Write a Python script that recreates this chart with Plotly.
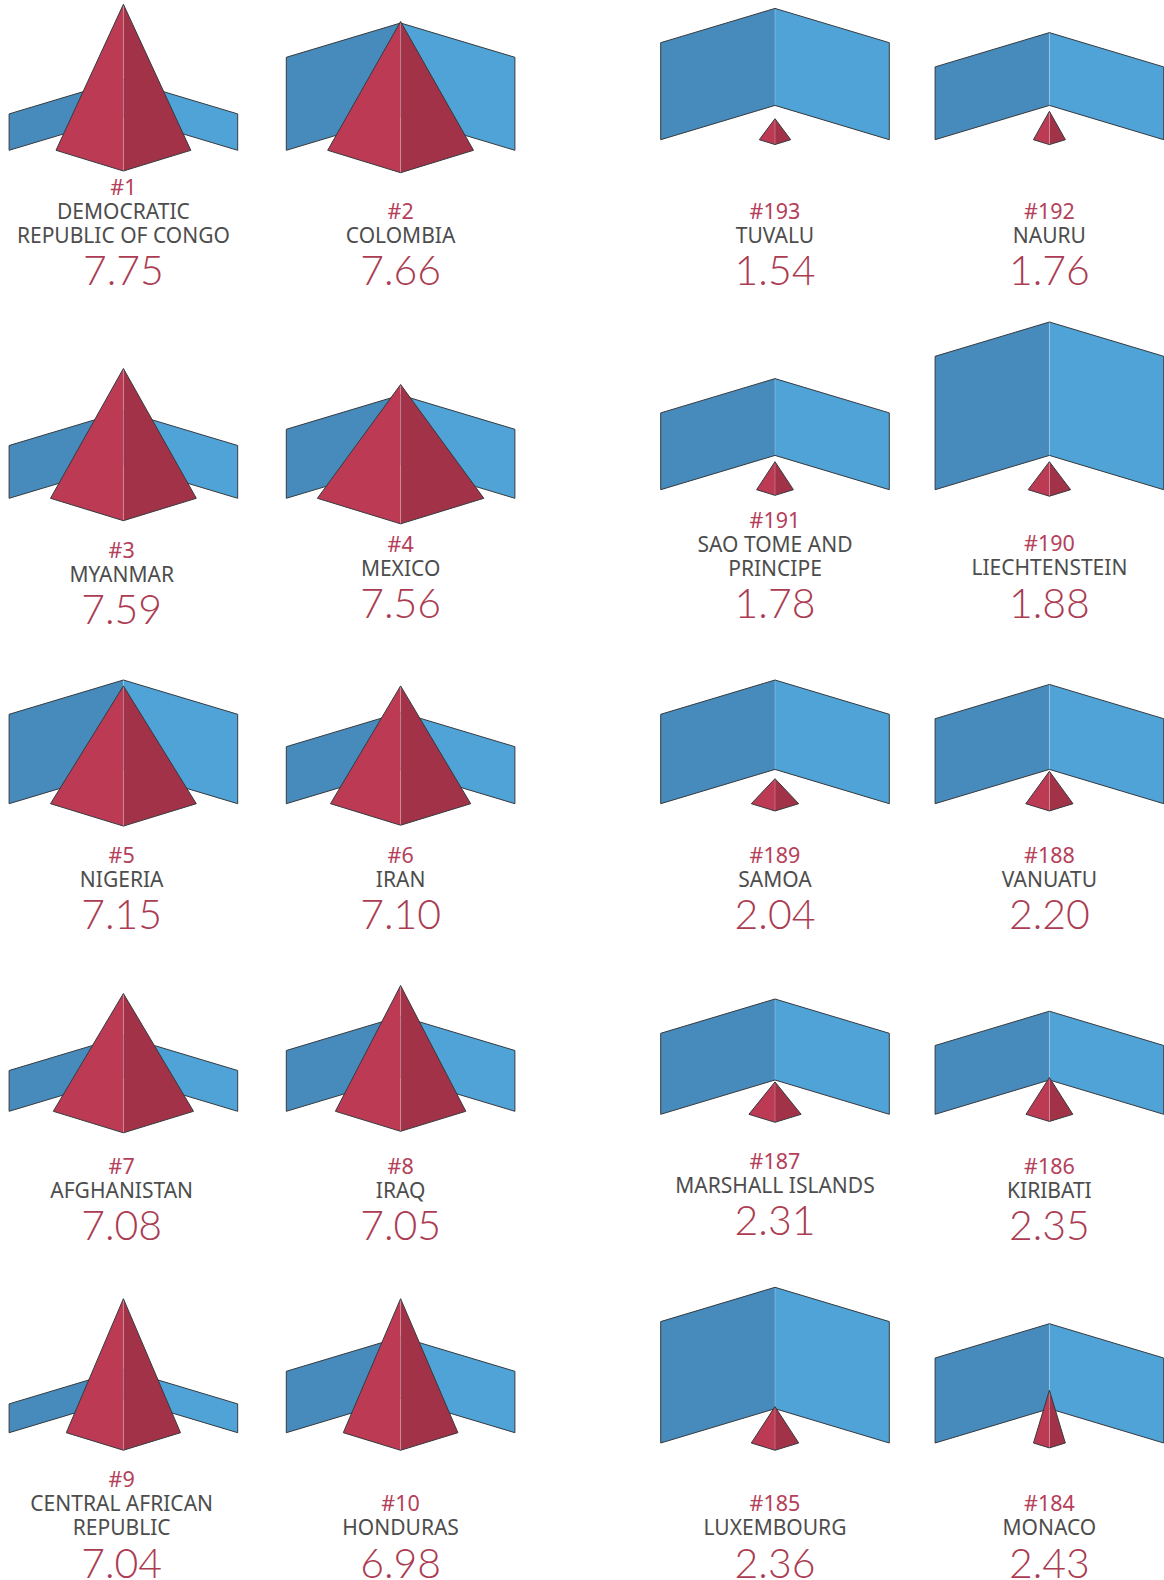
import plotly.graph_objects as go

# ---- data (index units) ----
RANKS = [1, 2, 3, 4, 5, 6, 7, 8, 9, 10,
         193, 192, 191, 190, 189, 188, 187, 186, 185, 184]
COUNTRIES = [
    ["DEMOCRATIC", "REPUBLIC OF CONGO"], ["COLOMBIA"], ["MYANMAR"], ["MEXICO"],
    ["NIGERIA"], ["IRAN"], ["AFGHANISTAN"], ["IRAQ"],
    ["CENTRAL AFRICAN", "REPUBLIC"], ["HONDURAS"],
    ["TUVALU"], ["NAURU"], ["SAO TOME AND", "PRINCIPE"], ["LIECHTENSTEIN"],
    ["SAMOA"], ["VANUATU"], ["MARSHALL ISLANDS"], ["KIRIBATI"],
    ["LUXEMBOURG"], ["MONACO"],
]
SCORES = [7.75, 7.66, 7.59, 7.56, 7.15, 7.10, 7.08, 7.05, 7.04, 6.98,
          1.54, 1.76, 1.78, 1.88, 2.04, 2.20, 2.31, 2.35, 2.36, 2.43]
WALL = [1.82, 4.65, 2.64, 3.45, 4.47, 2.85, 2.04, 3.04, 1.44, 3.07,
        4.85, 3.64, 3.84, 6.67, 4.47, 4.25, 4.05, 3.44, 6.07, 4.25]
PEAK = [7.30, 6.44, 6.49, 5.69, 5.89, 5.89, 5.89, 6.29, 6.70, 6.70,
        1.05, 1.42, 1.40, 1.40, 1.25, 1.62, 1.62, 1.84, 1.82, 2.64]
SPREAD = [6.74, 7.29, 7.29, 8.32, 7.29, 7.01, 7.01, 6.52, 5.71, 5.73,
          1.57, 1.60, 1.84, 2.12, 2.37, 2.36, 2.61, 2.34, 2.37, 1.59]

# ---- layout (pixel grid of the page) ----
W, H = 1164, 1580
UNIT = 20.0                # px per index unit
HALF_SPREAD_UNIT = 10.0
WING = 114.3               # half span of the folded wall
TILT = 0.30                # isometric slope
DEPTH = 0.307              # front corner drop of the pyramid
COL_X = [123.4, 400.6, 775.0, 1049.4]
TEXT_X = [[123.4, 121.7, 121.7, 121.7, 121.7], [400.6] * 5, [775.0] * 5, [1049.4] * 5]
BASE_Y = [[150.3, 498.3, 803.7, 1111.3, 1432.7],
          [150.3, 498.3, 803.7, 1111.3, 1432.7],
          [139.7, 489.7, 803.7, 1114.3, 1443.0],
          [139.7, 489.7, 803.7, 1114.3, 1443.0]]
RANK_Y = [[186.7, 550.0, 854.7, 1165.7, 1479.3],
          [210.7, 543.7, 854.7, 1165.7, 1503.3],
          [210.7, 520.0, 854.7, 1160.7, 1503.3],
          [210.7, 543.3, 854.7, 1165.7, 1503.3]]
LINE = 24.0
SCORE_GAP = 37.2
TEXT_NUDGE = 2.8
# order of tiles in the grid: (column, row)
CELLS = [(c, r) for r in range(5) for c in (0, 1)] + [(c, r) for r in range(5) for c in (2, 3)]

C_WALL_L, C_WALL_R = "#468BBC", "#4FA3D7"
C_PYR_L, C_PYR_R = "#BC3A53", "#A23248"
C_EDGE = "#363A3E"
C_RANK, C_NAME, C_SCORE = "#B5405A", "#4D4D4D", "#AB3C52"


def add(xs, ys, pts):
    for x, y in pts:
        xs.append(x)
        ys.append(y)
    xs.append(None)
    ys.append(None)


wl, wr, we, ws = ([], []), ([], []), ([], []), ([], [])
pl, pr, pe, ps = ([], []), ([], []), ([], []), ([], [])
rank_t, name_t, score_t = ([], [], []), ([], [], []), ([], [], [])

for i, (c, r) in enumerate(CELLS):
    cx, base = COL_X[c], BASE_Y[c][r]
    h = WALL[i] * UNIT
    rise = WING * TILT
    ctr_bot, ctr_top = base - rise, base - rise - h
    out_top = base - h
    add(*wl, [(cx - WING, base), (cx - WING, out_top), (cx, ctr_top), (cx, ctr_bot), (cx - WING, base)])
    add(*wr, [(cx + WING, base), (cx + WING, out_top), (cx, ctr_top), (cx, ctr_bot), (cx + WING, base)])
    add(*we, [(cx - WING, base), (cx - WING, out_top), (cx, ctr_top), (cx + WING, out_top),
              (cx + WING, base), (cx, ctr_bot), (cx - WING, base)])
    add(*ws, [(cx, ctr_top), (cx, ctr_bot)])

    hw = SPREAD[i] * HALF_SPREAD_UNIT
    top = base - PEAK[i] * UNIT
    front = base + hw * DEPTH
    add(*pl, [(cx, top), (cx - hw, base), (cx, front), (cx, top)])
    add(*pr, [(cx, top), (cx + hw, base), (cx, front), (cx, top)])
    add(*pe, [(cx, top), (cx - hw, base), (cx, front), (cx + hw, base), (cx, top)])
    add(*ps, [(cx, top + 1), (cx, front - 0.5)])

    tx = TEXT_X[c][r]
    y = RANK_Y[c][r] + TEXT_NUDGE
    rank_t[0].append(tx); rank_t[1].append(y); rank_t[2].append(f"#{RANKS[i]}")
    for line in COUNTRIES[i]:
        y += LINE
        name_t[0].append(tx); name_t[1].append(y); name_t[2].append(line)
    y += SCORE_GAP
    score_t[0].append(tx); score_t[1].append(y); score_t[2].append(f"{SCORES[i]:.2f}")


def poly(d, color):
    return go.Scatter(x=d[0], y=d[1], mode="none", fill="toself", fillcolor=color,
                      hoverinfo="skip", showlegend=False)


def edge(d, color, width):
    return go.Scatter(x=d[0], y=d[1], mode="lines", line=dict(color=color, width=width),
                      hoverinfo="skip", showlegend=False)


def label(d, color, size, weight, family):
    return go.Scatter(x=d[0], y=d[1], text=d[2], mode="text", textposition="middle center",
                      textfont=dict(family=family, size=size, color=color, weight=weight),
                      hoverinfo="skip", showlegend=False, cliponaxis=False)


fig = go.Figure([
    poly(wl, C_WALL_L), poly(wr, C_WALL_R),
    edge(ws, "rgba(255,255,255,0.25)", 1), edge(we, C_EDGE, 1),
    poly(pl, C_PYR_L), poly(pr, C_PYR_R),
    edge(ps, "rgba(255,255,255,0.25)", 1), edge(pe, C_EDGE, 1),
    label(rank_t, C_RANK, 21.5, 400, "Noto Sans"),
    label(name_t, C_NAME, 21, 400, "Noto Sans"),
    label(score_t, C_SCORE, 41, 300, "Lato"),
])
fig.update_layout(
    width=W, height=H, autosize=False,
    margin=dict(l=0, r=0, t=0, b=0),
    paper_bgcolor="white", plot_bgcolor="white",
    xaxis=dict(range=[0, W], visible=False, fixedrange=True),
    yaxis=dict(range=[H, 0], visible=False, fixedrange=True),
    showlegend=False,
)
fig.write_html("out.html", config=dict(displayModeBar=False),
               post_script="document.body.style.margin='0';document.documentElement.style.overflow='hidden';")
